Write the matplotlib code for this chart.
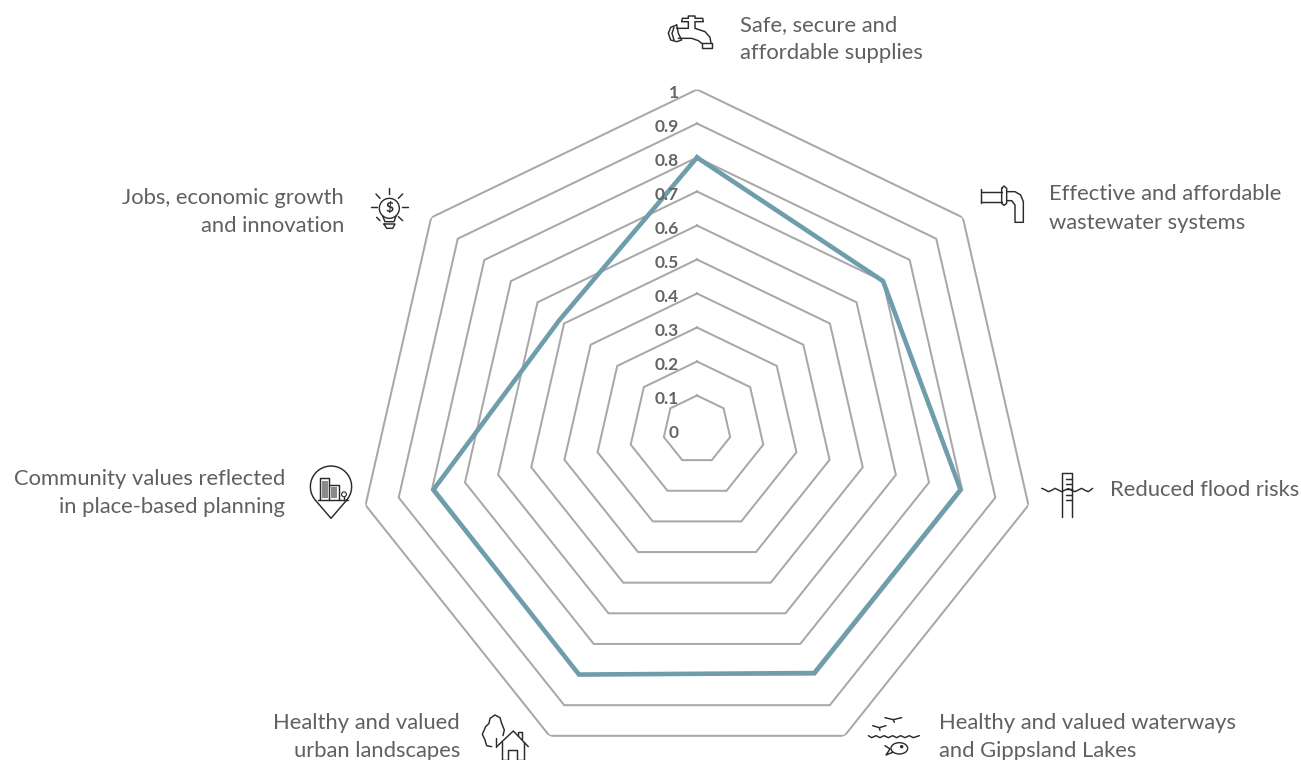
import numpy as np
import matplotlib.pyplot as plt
from matplotlib.patches import Circle, Ellipse, Rectangle

categories = ["Safe, secure and\naffordable supplies",
              "Effective and affordable\nwastewater systems",
              "Reduced flood risks",
              "Healthy and valued waterways\nand Gippsland Lakes",
              "Healthy and valued\nurban landscapes",
              "Community values reflected\nin place-based planning",
              "Jobs, economic growth\nand innovation"]
scores = [0.80, 0.70, 0.795, 0.795, 0.80, 0.795, 0.517]
ring_values = [0, 0.1, 0.2, 0.3, 0.4, 0.5, 0.6, 0.7, 0.8, 0.9, 1]
ring_labels = ["0", "0.1", "0.2", "0.3", "0.4", "0.5", "0.6", "0.7", "0.8", "0.9", "1"]

W, H = 1301, 760
TXT = "#5f6062"
RING = "#a8a8a8"
LINE = "#6f9dac"
ICON = "#2b2b2b"
plt.rcParams["font.family"] = ["Lato", "DejaVu Sans"]

fig = plt.figure(figsize=[W / 100, H / 100], dpi=100)

# radar, centre (697, 429.5), radius 340 px
cx, cy, rad = 697, 429.5, 340
ax = fig.add_axes([(cx - rad) / W, (H - cy - rad) / H, 2 * rad / W, 2 * rad / H], projection="polar")
ax.set_theta_zero_location("N")
ax.set_theta_direction(-1)
ax.set_rlim(0, 1)
ax.axis("off")

theta = 2 * np.pi * np.arange(len(categories)) / len(categories)
theta_c = np.append(theta, theta[0])
for v in ring_values[1:]:
    ax.plot(theta_c, [v] * len(theta_c), color=RING, lw=1.45, solid_joinstyle="miter", zorder=1)
ax.plot(theta_c, scores + scores[:1], color=LINE, lw=3.3, solid_joinstyle="miter", zorder=2)
for v, lab in zip(ring_values, ring_labels):
    ax.annotate(lab, (0, v), xytext=(-13, -2.2), textcoords="offset points", ha="right", va="center",
                fontsize=12.5, fontweight="bold", color="#636466", zorder=3, annotation_clip=False)

# overlay in pixel coordinates for labels and icons
ov = fig.add_axes([0, 0, 1, 1])
ov.set_xlim(0, W)
ov.set_ylim(H, 0)
ov.axis("off")
ov.patch.set_alpha(0)

label_pos = [(740, 39, "left"), (1049, 208.5, "left"), (1110, 490.5, "left"), (939, 737, "left"),
             (460, 737, "right"), (285, 493, "right"), (344, 212, "right")]
for lab, (x, y, ha) in zip(categories, label_pos):
    ov.text(x, y, lab, ha=ha, va="center", fontsize=15.8, color=TXT, linespacing=1.54)


def stroke(ox, oy, *lines, lw=1.05):
    for pts in lines:
        p = np.array(pts, dtype=float)
        ov.plot(ox + p[:, 0] / 3, oy + p[:, 1] / 3, color=ICON, lw=lw, solid_capstyle="round",
                solid_joinstyle="round")


# tap
stroke(650, 0,
       [(115, 55), (97, 55), (95, 65), (115, 65), (115, 85), (80, 85)],
       [(115, 55), (115, 48), (135, 48), (135, 55), (158, 55), (160, 65), (135, 65), (135, 85), (165, 95), (180, 112),
        (183, 130)],
       [(85, 115), (125, 115), (145, 122), (155, 130)],
       [(155, 130), (185, 130), (185, 145), (155, 145), (155, 130)],
       [(80, 75), (62, 82), (55, 100), (62, 120), (80, 125), (95, 120), (85, 100), (80, 75)],
       [(72, 82), (66, 100), (72, 120)])
# pipe
stroke(960, 170,
       [(62, 57), (62, 100)], [(62, 65), (125, 65)], [(62, 95), (125, 95)],
       [(125, 55), (132, 48), (140, 55), (140, 100), (132, 106), (125, 100), (125, 55)],
       [(140, 65), (165, 65), (182, 75), (190, 95), (190, 157), (165, 157), (165, 105), (155, 92), (140, 92)])
# gauge
stroke(1030, 460,
       [(95, 170), (95, 38), (125, 38), (125, 170)],
       [(108, 58), (125, 58)], [(108, 72), (125, 72)], [(108, 88), (125, 88)], [(108, 104), (125, 104)],
       [(108, 120), (125, 120)],
       [(35, 85), (45, 89), (55, 95), (65, 91), (75, 85), (85, 90), (95, 95), (105, 90), (115, 86), (125, 91),
        (135, 95), (145, 90), (155, 85), (165, 91), (175, 95), (188, 85)])
# birds, waves, fish
stroke(860, 705,
       [(75, 38), (100, 44), (125, 38)], [(100, 44), (103, 52)], [(38, 62), (58, 68), (78, 62)], [(58, 68), (60, 76)],
       [(25, 92), (35, 98), (48, 92), (60, 98), (72, 92), (85, 98), (98, 92), (110, 98), (122, 92), (135, 98),
        (148, 92), (160, 98), (178, 92)],
       [(75, 122), (90, 132), (78, 150), (98, 142)])
ov.add_patch(Ellipse((860 + 118 / 3, 705 + 130 / 3), 50 / 3, 34 / 3, fill=False, ec=ICON, lw=1.0))
ov.add_patch(Circle((860 + 125 / 3, 705 + 125 / 3), 1.0, color=ICON))
# tree and house
stroke(475, 705,
       [(50, 125), (35, 122), (30, 105), (22, 88), (32, 65), (42, 55), (45, 40), (60, 30), (75, 38), (80, 55),
        (88, 75), (84, 92)],
       [(62, 100), (62, 125)], [(65, 125), (115, 78), (160, 125)], [(130, 92), (130, 80), (140, 80), (140, 103)],
       [(80, 112), (80, 165), (100, 165), (100, 135), (125, 135), (125, 165), (148, 165), (148, 112)])
# pin with buildings
a = np.radians(np.arange(-40, 221, 10))
px, py = 93 + 62 * np.cos(a), 80 - 62 * np.sin(a)
stroke(300, 460, list(zip(px, py)) + [(93, 175)] + [(px[0], py[0])],
       [(55, 120), (145, 120)], [(60, 120), (60, 55), (88, 55), (88, 120)], [(88, 75), (118, 75), (118, 120)],
       [(132, 110), (132, 120)])
ov.add_patch(Circle((300 + 132 / 3, 460 + 103 / 3), 2.4, fill=False, ec=ICON, lw=0.8))
ov.add_patch(Rectangle((300 + 66 / 3, 460 + 62 / 3), 5.5, 17, fc="#8a8a8a", ec="none"))
ov.add_patch(Rectangle((300 + 94 / 3, 460 + 82 / 3), 6, 11, fc="#8a8a8a", ec="none"))
# light bulb
stroke(360, 180,
       [(88, 25), (88, 42)], [(48, 42), (60, 55)], [(128, 42), (115, 55)], [(33, 82), (50, 82)], [(127, 82), (145, 82)],
       [(50, 112), (60, 122)], [(128, 122), (115, 110)],
       [(68, 108), (75, 125), (102, 125), (108, 108)], [(72, 132), (105, 132), (98, 145), (80, 145), (72, 132)])
ov.add_patch(Circle((360 + 88 / 3, 180 + 85 / 3), 10, fill=False, ec=ICON, lw=1.0))
ov.text(360 + 88 / 3, 180 + 85 / 3, "$", ha="center", va="center", fontsize=10, fontweight="bold", color=ICON)

fig.savefig("out.png", dpi=100)
